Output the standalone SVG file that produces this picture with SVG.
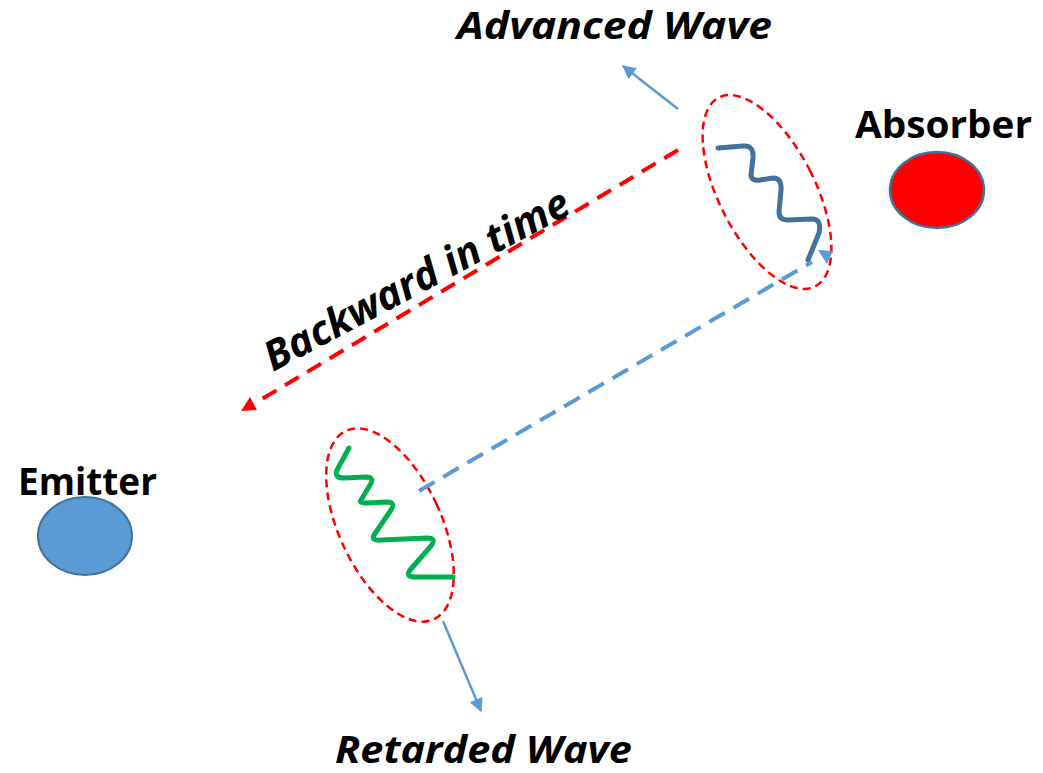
<svg xmlns="http://www.w3.org/2000/svg" width="1043" height="773" viewBox="0 0 1043 773">
<style>
.lbl{font-family:"Open Sans","Liberation Sans",sans-serif;font-weight:bold;font-size:37px;fill:#000}
.it{font-style:italic}
.ring{fill:none;stroke:#FF0000;stroke-width:2.5;stroke-dasharray:8 5}
.arr{stroke:#5B9BD5;stroke-width:2.5;fill:none}
</style>
<defs>
<marker id="ah" viewBox="0 0 10 10" refX="9" refY="5" markerWidth="6.5" markerHeight="5.5" orient="auto" markerUnits="strokeWidth">
<path d="M0,0 L10,5 L0,10 Z" fill="#5B9BD5"/>
</marker>
</defs>
<rect width="1043" height="773" fill="#fff"/>
<g id="emitter">
<ellipse cx="85" cy="536" rx="47" ry="39" fill="#5B9BD5" stroke="#41719C" stroke-width="2"/>
<text class="lbl" x="18" y="495" textLength="139" lengthAdjust="spacingAndGlyphs">Emitter</text>
</g>
<g id="absorber">
<ellipse cx="937" cy="190" rx="47" ry="38" fill="#FF0000" stroke="#41719C" stroke-width="2.5"/>
<text class="lbl" x="855" y="138" textLength="177" lengthAdjust="spacingAndGlyphs">Absorber</text>
</g>
<g id="advanced-wave">
<ellipse class="ring" cx="767" cy="192" rx="48" ry="106" transform="rotate(-27 767 192)"/>
<path d="M718,148 L743,146 Q754,145 753,158 L751,175 Q751,181 760,180 L773,178 Q782,178 781,190 L779,212 Q779,220 788,220 L812,219 Q822,219 819,233 L808,260" fill="none" stroke="#41719C" stroke-width="5" stroke-linecap="round" stroke-linejoin="round"/>
<text class="lbl it" x="457" y="39" textLength="315" lengthAdjust="spacingAndGlyphs">Advanced Wave</text>
</g>
<g id="retarded-wave">
<ellipse class="ring" cx="390" cy="525" rx="51" ry="104" transform="rotate(-25 390 525)"/>
<path d="M349,448 L337,470 Q334,478 344,478 L366,477 Q375,477 370,485 L361,500 Q358,503 368,503 L387,502 Q396,502 391,510 L374,535 Q371,541 381,540 L427,538 Q437,538 431,546 L410,570 Q405,577 416,577 L453,577" fill="none" stroke="#00B050" stroke-width="5" stroke-linecap="round" stroke-linejoin="round"/>
<text class="lbl it" x="335" y="763" textLength="297" lengthAdjust="spacingAndGlyphs">Retarded Wave</text>
</g>
<g id="connectors">
<line x1="678" y1="150" x2="257" y2="402" stroke="#FF0000" stroke-width="4" stroke-dasharray="16 10"/>
<polygon points="241,411 257,410 250,397" fill="#FF0000"/>
<line x1="419" y1="491" x2="812" y2="262" stroke="#5B9BD5" stroke-width="4" stroke-dasharray="18 10"/>
<polygon points="818,250 833,251 827,264" fill="#5B9BD5"/>
<line class="arr" x1="678" y1="109" x2="623" y2="66" marker-end="url(#ah)"/>
<line class="arr" x1="443" y1="621" x2="481" y2="711" marker-end="url(#ah)"/>
</g>
<g id="backward-label">
<text class="lbl it" style="font-size:41px" transform="translate(273 372) rotate(-28)" x="0" y="0" textLength="340" lengthAdjust="spacingAndGlyphs">Backward in time</text>
</g>
</svg>
